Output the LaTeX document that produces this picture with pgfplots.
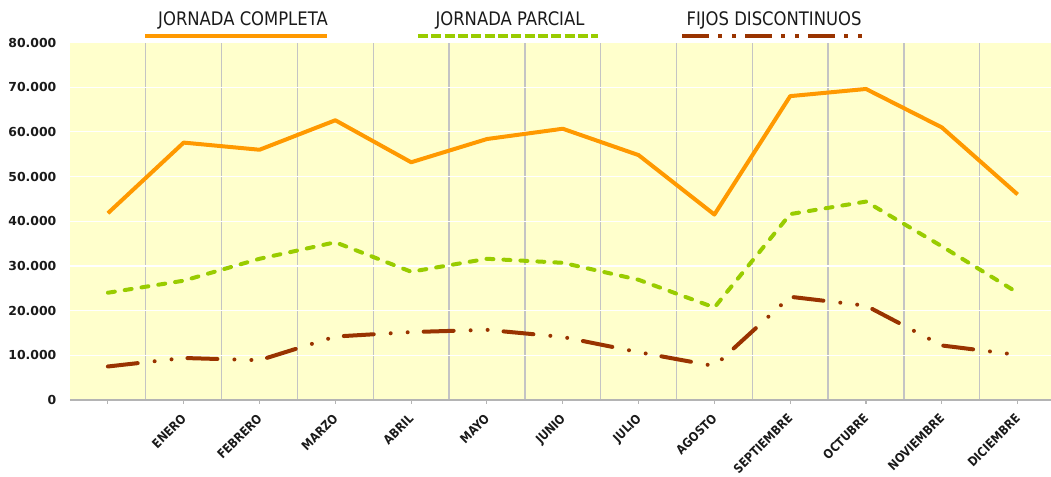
\documentclass[border=0pt]{standalone}
\usepackage{fontspec}
\setmainfont{DejaVu Sans}
\newfontfamily\legfont[FakeStretch=0.88]{DejaVu Sans}
\newfontfamily\xlabfont[FakeStretch=0.87]{DejaVu Sans}
\usepackage{pgfplots}
\pgfplotsset{compat=1.18}

\definecolor{jcompleta}{HTML}{FF9900}
\definecolor{jparcial}{HTML}{99CC00}
\definecolor{fijos}{HTML}{993300}
\definecolor{plotbg}{HTML}{FFFFCC}
\definecolor{gridgray}{HTML}{C4C4C4}
\definecolor{axisgray}{HTML}{B4B4B4}
\definecolor{labelblack}{HTML}{1A1A1A}

% 1 px of the reference = 0.75pt
\begin{document}
\begin{tikzpicture}[x=1pt,y=1pt]
\useasboundingbox (0,0) rectangle (788.25,357.75);
\begin{axis}[
    at={(52.5pt,57.75pt)}, anchor=south west,
    scale only axis,
    width=735.75pt, height=268.125pt,
    xmin=-0.5, xmax=12.44,
    ymin=0, ymax=80000,
    axis x line*=bottom, axis y line*=left,
    x axis line style={draw=axisgray, line width=2pt},
    y axis line style={draw=none},
    axis background/.style={fill=plotbg},
    xtick={0,...,12},
    xticklabels={{},ENERO,FEBRERO,MARZO,ABRIL,MAYO,JUNIO,JULIO,AGOSTO,SEPTIEMBRE,OCTUBRE,NOVIEMBRE,DICIEMBRE},
    minor xtick={0.5,1.5,...,11.5},
    ytick={0,10000,...,80000},
    scaled y ticks=false,
    xminorgrids, ymajorgrids,
    minor grid style={draw=gridgray, line width=1pt},
    major grid style={draw=white, line width=0.9pt},
    tick align=outside,
    major tick length=3pt, minor tick length=0pt,
    xtick style={draw=axisgray, line width=0.8pt},
    ytick style={draw=none},
    yticklabel style={font=\fontsize{9.3}{11}\selectfont\bfseries, text=labelblack, xshift=-3.75pt},
    xticklabel style={font=\xlabfont\fontsize{9.4}{10}\selectfont\bfseries, text=labelblack,
        xshift=-2.5pt, yshift=-6.5pt, rotate=45, anchor=north east, inner sep=0pt},
    /pgf/number format/1000 sep={.},
    /pgf/number format/assume math mode=true,
    clip=false,
]
% Jornada completa
\addplot[jcompleta, line width=3pt, line join=round] coordinates {
    (0,41800) (1,57600) (2,56000) (3,62600) (4,53200) (5,58400) (6,60700)
    (7,54800) (8,41500) (9,68000) (10,69600) (11,61000) (12,46000)
};
% Jornada parcial
\addplot[jparcial, line width=3pt, line cap=round, line join=round,
    dash pattern=on 5.25pt off 7.5pt] coordinates {
    (0,24000) (1,26700) (2,31600) (3,35300) (4,28700) (5,31600) (6,30700)
    (7,26900) (8,20700) (9,41600) (10,44400) (11,34400) (12,24000)
};
% Fijos discontinuos
\addplot[fijos, line width=3pt, line cap=round, line join=round,
    dash pattern=on 22.5pt off 12.75pt on 0pt off 12.75pt on 0pt off 12pt] coordinates {
    (0,7500) (1,9400) (2,8900) (3,14200) (4,15200) (5,15700) (6,14100)
    (7,10700) (8,7600) (9,23100) (10,21100) (11,12200) (12,10100)
};
\end{axis}

% legend above the plot
\begin{scope}[font=\legfont\fontsize{14}{16}\selectfont, text=labelblack]
\node[anchor=base] at (182.25,338.25) {JORNADA COMPLETA};
\node[anchor=base] at (382.5,338.25) {JORNADA PARCIAL};
\node[anchor=base] at (580.5,338.25) {FIJOS DISCONTINUOS};
\end{scope}
\draw[jcompleta, line width=3pt] (108.75,330.75) -- (245.25,330.75);
\draw[jparcial, line width=3pt, dash pattern=on 7.5pt off 2.5pt] (313.5,330.75) -- (448.5,330.75);
\draw[fijos, line width=3pt, dash pattern=on 20.25pt off 6.75pt on 3pt off 7.5pt on 3pt off 6.75pt] (511.5,330.75) -- (648,330.75);
\end{tikzpicture}
\end{document}
